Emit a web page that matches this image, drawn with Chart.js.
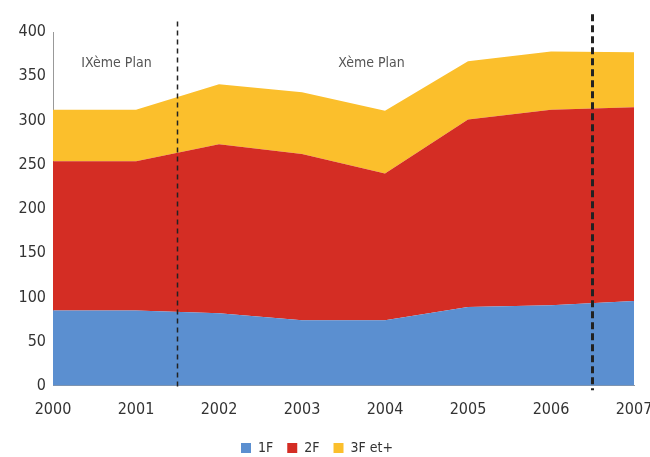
<!DOCTYPE html>
<html>
<head>
<meta charset="utf-8">
<script src="https://cdn.jsdelivr.net/npm/chart.js@4"></script>
<style>
  html, body { margin: 0; padding: 0; background: #fff; }
  #wrap { width: 650px; height: 457px; }
</style>
</head>
<body>
<div id="wrap"><canvas id="plansChart"></canvas></div>
<script>
const years = ["2000", "2001", "2002", "2003", "2004", "2005", "2006", "2007"];
const f1 = [85, 85, 82, 74, 74, 89, 91, 96];
const f2 = [169, 169, 191, 188, 166, 212, 221, 219];
const f3 = [58, 58, 68, 70, 71, 66, 66, 62];
const yTicks = [0, 50, 100, 150, 200, 250, 300, 350, 400];

const font = "'Liberation Sans Narrow', 'DejaVu Sans Condensed', sans-serif";

// dashed separators + plan labels
const planMarks = {
  id: "planMarks",
  afterDatasetsDraw(chart) {
    const { ctx, scales: { x, y } } = chart;
    const mid = (a, b) => (x.getPixelForValue(a) + x.getPixelForValue(b)) / 2;
    ctx.save();
    ctx.strokeStyle = "#222";
    ctx.lineWidth = 1.5;
    ctx.setLineDash([5, 4]);
    let px = mid(1, 2);
    ctx.beginPath();
    ctx.moveTo(px, y.getPixelForValue(412));
    ctx.lineTo(px, y.getPixelForValue(-3));
    ctx.stroke();

    ctx.lineWidth = 3;
    ctx.setLineDash([7, 4]);
    px = mid(6, 7);
    ctx.beginPath();
    ctx.moveTo(px, y.getPixelForValue(420));
    ctx.lineTo(px, y.getPixelForValue(-5));
    ctx.stroke();

    ctx.setLineDash([]);
    ctx.fillStyle = "#555";
    ctx.font = "14px " + font;
    ctx.textAlign = "center";
    ctx.textBaseline = "middle";
    ctx.fillText("IXème Plan", (x.getPixelForValue(0) + x.getPixelForValue(1)) / 2 + 22, y.getPixelForValue(365));
    ctx.fillText("Xème Plan", (x.getPixelForValue(3) + x.getPixelForValue(4)) / 2 + 28, y.getPixelForValue(365));
    ctx.restore();
  }
};

new Chart(document.getElementById("plansChart"), {
  type: "line",
  data: {
    labels: years,
    datasets: [
      { label: "1F", data: f1, backgroundColor: "#5b8fd0", borderColor: "#5b8fd0", fill: "origin" },
      { label: "2F", data: f2, backgroundColor: "#d42d24", borderColor: "#d42d24", fill: "-1" },
      { label: "3F et+", data: f3, backgroundColor: "#fbbf2c", borderColor: "#fbbf2c", fill: "-1" }
    ]
  },
  options: {
    responsive: true,
    maintainAspectRatio: false,
    animation: false,
    layout: { padding: { top: 32, right: 16, left: 0, bottom: -8 } },
    elements: {
      point: { radius: 0 },
      line: { tension: 0, borderWidth: 0 }
    },
    plugins: {
      legend: {
        position: "bottom",
        labels: {
          boxWidth: 10,
          boxHeight: 10,
          color: "#333",
          font: { family: font, size: 14 },
          padding: 14
        }
      },
      tooltip: { enabled: false }
    },
    scales: {
      x: {
        offset: false,
        afterFit(scale) {
          scale.height -= 1;
          scale.paddingRight = 0;
          scale.paddingLeft = 0;
        },
        grid: { display: false, drawTicks: true, tickLength: 5, color: "#999" },
        border: { color: "#999" },
        ticks: { color: "#333", font: { family: font, size: 16 }, maxRotation: 0, padding: 9 }
      },
      y: {
        stacked: true,
        min: 0,
        max: 400,
        afterBuildTicks(scale) { scale.ticks = yTicks.map(v => ({ value: v })); },
        afterFit(scale) { scale.width = 53; },
        grid: { display: false, drawTicks: true, tickLength: 5, color: "#999" },
        border: { color: "#999" },
        ticks: { color: "#333", font: { family: font, size: 16 }, padding: 2 }
      }
    }
  },
  plugins: [planMarks]
});
</script>
</body>
</html>
